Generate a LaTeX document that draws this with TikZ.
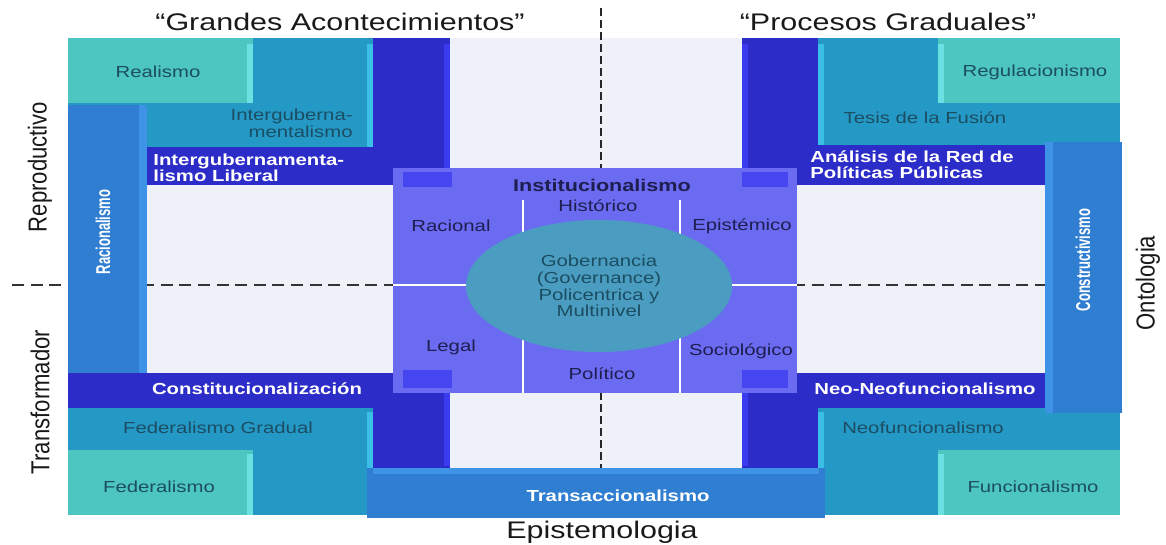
\documentclass[tikz,border=0pt]{standalone}
\usepackage{fontspec}
\setmainfont{Liberation Sans}
\newfontfamily\widefont[FakeStretch=1.27]{Liberation Sans}
\newfontfamily\tallfont[FakeStretch=0.85]{Liberation Sans}
\newfontfamily\narrowfont[FakeStretch=0.65]{Liberation Sans}
\usetikzlibrary{shapes.geometric}

\definecolor{bgfill}{HTML}{EEF2F8}
\definecolor{lightteal}{HTML}{4DC5C1}
\definecolor{lightedge}{HTML}{6AE0E2}
\definecolor{midblue}{HTML}{2599C6}
\definecolor{midedge}{HTML}{3CBFE6}
\definecolor{darkblue}{HTML}{2C2CC9}
\definecolor{darkedge}{HTML}{3A3AEE}
\definecolor{sideblue}{HTML}{2F7ED1}
\definecolor{sideedge}{HTML}{3F93E6}
\definecolor{panelfill}{HTML}{6B6BF2}
\definecolor{cornerfill}{HTML}{4646F0}
\definecolor{hubfill}{HTML}{4A9DC0}
\definecolor{tealtext}{HTML}{1B4D63}
\definecolor{paneltext}{HTML}{1E1E50}

\tikzset{
    axistext/.style={font=\widefont\fontsize{12}{12}\selectfont, text=black!90, inner sep=0pt},
    sidetext/.style={font=\tallfont\fontsize{13}{13}\selectfont, text=black!90, inner sep=0pt, rotate=90},
    boxtext/.style={font=\widefont\fontsize{8}{8}\selectfont, text=tealtext, inner sep=0pt},
    bandtext/.style={font=\widefont\bfseries\fontsize{8}{8}\selectfont, text=white, inner sep=0pt, align=left},
    spinetext/.style={font=\narrowfont\bfseries\fontsize{10}{10}\selectfont, text=white, inner sep=0pt, rotate=90},
    paneltext/.style={font=\widefont\fontsize{8}{8}\selectfont, text=paneltext, inner sep=0pt},
    splith/.style={draw=black!80, line width=1pt, dash pattern=on 6pt off 3.3pt},
    splitv/.style={draw=black!85, line width=1.3pt, dash pattern=on 4pt off 2pt},
    divider/.style={draw=white, line width=1.2pt}
}

\begin{document}
\begin{tikzpicture}[x=0.5pt, y=-0.5pt]
            \useasboundingbox (0,0) rectangle (1166,545);

                % Background:
                \fill[bgfill] (68,38) rectangle (1120,515);
                \draw[splith] (12,285) -- (1047,285);
                \draw[splitv] (601,8) -- (601,468);

                % Top left:
                \fill[darkblue] (68,38) rectangle (450,185);
                \fill[darkedge] (444,44) rectangle (450,185);
                \fill[midblue] (68,38) rectangle (373,147);
                \fill[midedge] (367,44) rectangle (373,147);
                \fill[lightteal] (68,38) rectangle (253,103);
                \fill[lightedge] (247,44) rectangle (253,103);
                \fill[sideblue] (68,105) rectangle (147,373);
                \fill[sideedge] (139,105) rectangle (147,373);

                % Bottom left:
                \fill[darkblue] (68,373) rectangle (450,470);
                \fill[darkedge] (444,373) rectangle (450,466);
                \fill[midblue] (68,408) rectangle (373,515);
                \fill[midedge] (367,412) rectangle (373,515);
                \fill[lightteal] (68,450) rectangle (253,515);
                \fill[lightedge] (247,454) rectangle (253,515);

                % Top right:
                \fill[darkblue] (742,38) rectangle (1120,185);
                \fill[darkedge] (742,44) rectangle (748,185);
                \fill[midblue] (818,38) rectangle (1120,145);
                \fill[midedge] (818,44) rectangle (824,145);
                \fill[lightteal] (938,38) rectangle (1120,103);
                \fill[lightedge] (938,44) rectangle (944,103);

                % Bottom right:
                \fill[darkblue] (742,373) rectangle (1120,470);
                \fill[darkedge] (742,373) rectangle (748,466);
                \fill[midblue] (818,408) rectangle (1120,515);
                \fill[midedge] (818,412) rectangle (824,515);
                \fill[lightteal] (938,450) rectangle (1120,515);
                \fill[lightedge] (938,454) rectangle (944,515);
                \fill[sideblue] (1045,142) rectangle (1122,413);
                \fill[sideedge] (1045,142) rectangle (1053,413);

                % Bottom:
                \fill[sideblue] (367,468) rectangle (825,518);
                \fill[sideedge] (373,468) rectangle (819,474);

                % Centre panel:
                \fill[panelfill] (393,168) rectangle (797,393);
                \fill[cornerfill] (403,172) rectangle (452,187);
                \fill[cornerfill] (742,172) rectangle (788,187);
                \fill[cornerfill] (403,370) rectangle (452,388);
                \fill[cornerfill] (742,370) rectangle (788,388);
                \draw[divider] (523,200) -- (523,393);
                \draw[divider] (680,200) -- (680,393);
                \draw[divider] (393,285) -- (797,285);
                \node[ellipse, fill=hubfill, minimum width=133pt, minimum height=66pt, inner sep=0pt,
                      font=\widefont\fontsize{8}{8.35}\selectfont, text=tealtext, align=center] (hub) at (599,286)
                      {Gobernancia\\(Governance)\\Policentrica y\\Multinivel};

                % Axis labels:
                \node[axistext] (grandes) at (340,22) {“Grandes Acontecimientos”};
                \node[axistext] (procesos) at (888,22) {“Procesos Graduales”};
                \node[axistext] (epistemologia) at (602,532) {Epistemologia};
                \node[sidetext] (reproductivo) at (40,167) {Reproductivo};
                \node[sidetext] (transformador) at (40,402) {Transformador};
                \node[sidetext] (ontologia) at (1148,283) {Ontologia};

                % Block labels:
                \node[boxtext] (realismo) at (158,72) {Realismo};
                \node[boxtext, align=right, anchor=east, font=\widefont\fontsize{8}{7}\selectfont] (intergub) at (353,123) {Interguberna-\\mentalismo};
                \node[bandtext, anchor=west] (intliberal) at (153,168) {Intergubernamenta-\\lismo Liberal};
                \node[spinetext] (racionalismo) at (103,232) {Racionalismo};
                \node[bandtext] (constit) at (257,389) {Constitucionalización};
                \node[boxtext] (fedgradual) at (218,428) {Federalismo Gradual};
                \node[boxtext] (federalismo) at (159,487) {Federalismo};
                \node[boxtext] (regulacion) at (1035,72) {Regulacionismo};
                \node[boxtext] (fusion) at (925,118) {Tesis de la Fusión};
                \node[bandtext, anchor=west] (redpoliticas) at (810,165) {Análisis de la Red de\\Políticas Públicas};
                \node[spinetext] (constructivismo) at (1083,260) {Constructivismo};
                \node[bandtext] (neoneo) at (925,389) {Neo-Neofuncionalismo};
                \node[boxtext] (neofunc) at (923,428) {Neofuncionalismo};
                \node[boxtext] (funcional) at (1033,487) {Funcionalismo};
                \node[bandtext] (transacc) at (618,496) {Transaccionalismo};

                % Panel labels:
                \node[paneltext, font=\widefont\bfseries\fontsize{8.5}{8.5}\selectfont] (instituc) at (602,185) {Institucionalismo};
                \node[paneltext] (historico) at (598,206) {Histórico};
                \node[paneltext] (racional) at (451,226) {Racional};
                \node[paneltext] (epistemico) at (742,226) {Epistémico};
                \node[paneltext] (legal) at (451,347) {Legal};
                \node[paneltext] (sociologico) at (741,351) {Sociológico};
                \node[paneltext] (politico) at (602,374) {Político};
            \end{tikzpicture}
\end{document}
